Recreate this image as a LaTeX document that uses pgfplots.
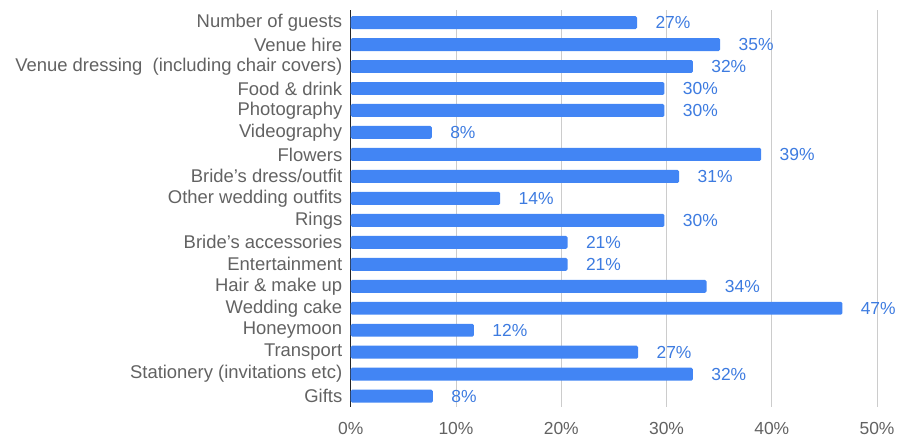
\documentclass[border=0pt]{standalone}
\usepackage{pgfplots}
\pgfplotsset{compat=1.18}
\usepackage{fontspec}
\setmainfont{Liberation Sans}
\definecolor{barblue}{HTML}{4285F4}
\definecolor{lblblue}{HTML}{3D7BE0}
\definecolor{txtgray}{HTML}{626262}
\begin{document}
\begin{tikzpicture}
\begin{axis}[
  xbar, scale only axis, width=528pt, height=398pt,
  xmin=0, xmax=50, ymin=-0.55, ymax=17.5, y dir=reverse,
  bar width=13pt,
  ytick={0,...,17},
  yticklabels={Number of guests, Venue hire, {Venue dressing\ \ (including chair covers)}, Food \& drink, Photography, Videography, Flowers, Bride's dress/outfit, Other wedding outfits, Rings, Bride's accessories, Entertainment, Hair \& make up, Wedding cake, Honeymoon, Transport, Stationery (invitations etc), Gifts},
  xtick={0,10,20,30,40,50},
  xticklabels={0\%,10\%,20\%,30\%,40\%,50\%},
  xmajorgrids, grid style={color=black!20, line width=0.8pt},
  axis lines*=left,
  x axis line style={draw=none},
  y axis line style={color=black!85, line width=1pt, -},
  major tick length=0pt,
  tick label style={color=txtgray},
  yticklabel style={font=\fontsize{18.5}{21}\selectfont, xshift=-5pt},
  xticklabel style={font=\fontsize{17.5}{20}\selectfont, yshift=-12pt},
  point meta=explicit symbolic,
  nodes near coords,
  nodes near coords style={font=\fontsize{17.5}{20}\selectfont, color=lblblue, anchor=west, xshift=15pt},
  clip=false,
]
\addplot[fill=barblue, draw=none, rounded corners=1.5pt] coordinates {
  (27.2,0) [27\%]
  (35.1,1) [35\%]
  (32.5,2) [32\%]
  (29.8,3) [30\%]
  (29.8,4) [30\%]
  (7.7,5) [8\%]
  (39.0,6) [39\%]
  (31.2,7) [31\%]
  (14.2,8) [14\%]
  (29.8,9) [30\%]
  (20.6,10) [21\%]
  (20.6,11) [21\%]
  (33.8,12) [34\%]
  (46.7,13) [47\%]
  (11.7,14) [12\%]
  (27.3,15) [27\%]
  (32.5,16) [32\%]
  (7.8,17) [8\%]
};
\end{axis}
\path (current bounding box.north west) ++(-12pt,10pt) coordinate (ext1);
\path (ext1);
\end{tikzpicture}
\end{document}
